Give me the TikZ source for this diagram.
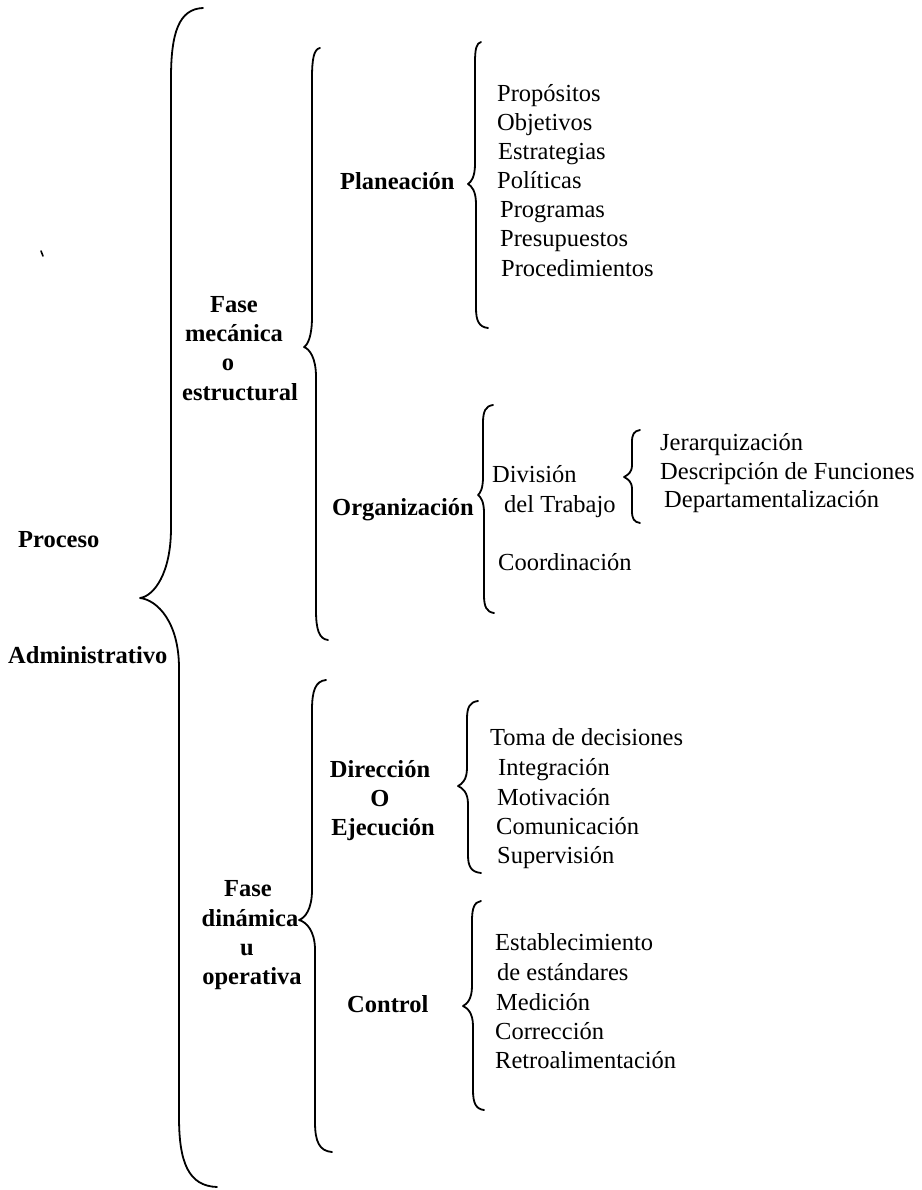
\documentclass[tikz,border=0pt]{standalone}
\usepackage{fontspec}
\setmainfont{Liberation Serif}
\begin{document}
% coordinates are given in points, y growing downwards
\newcommand\curlybrace[9]{%
  \draw[bracestroke]
    (#1,#2) .. controls ({#3+(#1-#3)*0.25},{#2+1}) and (#3,{#2+#9*0.35}) .. (#3,{#2+#9})
    -- (#3,{#5-#9})
    .. controls (#3,{#5-#9*0.35}) and ({#4+(#3-#4)*0.45},{#5-2}) .. (#4,#5)
    .. controls ({#4+(#6-#4)*0.45},{#5+2}) and (#6,{#5+#9*0.35}) .. (#6,{#5+#9})
    -- (#6,{#8-#9})
    .. controls (#6,{#8-#9*0.35}) and ({#6+(#7-#6)*0.25},{#8-1}) .. (#7,#8);}
\begin{tikzpicture}[x=1pt,y=-1pt,
  bracestroke/.style={line width=1.8pt,line cap=round,line join=round},
  hd/.style={inner sep=0pt,font=\fontsize{24.5}{29}\selectfont\bfseries},
  it/.style={inner sep=0pt,font=\fontsize{24.5}{29}\selectfont},
  lw/.style={anchor=base west},
  lc/.style={anchor=base}]
\useasboundingbox (0,0) rectangle (921,1190);
\fill[white] (0,0) rectangle (921,1190);

% braces: top end, upper stem, tip, lower stem, bottom end, hook length
\curlybrace{203}{8}{171}{140}{598}{179}{217}{1187}{70}
\curlybrace{320}{48}{312}{304}{347}{316}{328}{640}{30}
\curlybrace{326}{680}{312}{299}{920}{315}{332}{1152}{30}
\curlybrace{481}{42}{475}{468}{184}{476}{488}{328}{20}
\curlybrace{493}{405}{483}{478}{495}{484}{494}{613}{18}
\curlybrace{640}{430}{632}{624}{477}{632}{640}{523}{12}
\curlybrace{478}{701}{467}{458}{786}{468}{481}{873}{18}
\curlybrace{481}{901}{472}{463}{1006}{473}{484}{1110}{20}

% stray mark
\draw[line width=1.6pt,line cap=round] (41,251) -- (43,256);

% first level
\node[hd,lw] (proceso) at (18,547) {Proceso};
\node[hd,lw] (admin) at (8,663) {Administrativo};

% phases
\node[hd,lc] (fm1) at (234,312) {Fase};
\node[hd,lc] (fm2) at (234,341) {mecánica};
\node[hd,lc] (fm3) at (228,370) {o};
\node[hd,lc] (fm4) at (240,400) {estructural};

\node[hd,lc] (fd1) at (248,896) {Fase};
\node[hd,lc] (fd2) at (250,926) {dinámica};
\node[hd,lc] (fd3) at (247,955) {u};
\node[hd,lc] (fd4) at (252,984) {operativa};

% stages
\node[hd,lw] (plan) at (340,190) {Planeación};
\node[hd,lw] (org) at (332,515) {Organización};
\node[hd,lc] (dir1) at (380,777) {Dirección};
\node[hd,lc] (dir2) at (380,806) {O};
\node[hd,lc] (dir3) at (383,835) {Ejecución};
\node[hd,lw] (ctrl) at (347,1012) {Control};

% planning elements
\node[it,lw] (p1) at (497,102) {Propósitos};
\node[it,lw] (p2) at (497,131) {Objetivos};
\node[it,lw] (p3) at (498,160) {Estrategias};
\node[it,lw] (p4) at (497,189) {Políticas};
\node[it,lw] (p5) at (500,218) {Programas};
\node[it,lw] (p6) at (500,247) {Presupuestos};
\node[it,lw] (p7) at (501,276) {Procedimientos};

% organization elements
\node[it,lw] (o1) at (492,482) {División};
\node[it,lw] (o2) at (504,512) {del Trabajo};
\node[it,lw] (o3) at (498,570) {Coordinación};
\node[it,lw] (w1) at (660,450) {Jerarquización};
\node[it,lw] (w2) at (660,479) {Descripción de Funciones};
\node[it,lw] (w3) at (664,507) {Departamentalización};

% direction elements
\node[it,lw] (d1) at (490,745) {Toma de decisiones};
\node[it,lw] (d2) at (498,775) {Integración};
\node[it,lw] (d3) at (497,805) {Motivación};
\node[it,lw] (d4) at (496,834) {Comunicación};
\node[it,lw] (d5) at (497,863) {Supervisión};

% control elements
\node[it,lw] (c1) at (495,950) {Establecimiento};
\node[it,lw] (c2) at (497,980) {de estándares};
\node[it,lw] (c3) at (496,1010) {Medición};
\node[it,lw] (c4) at (495,1039) {Corrección};
\node[it,lw] (c5) at (495,1068) {Retroalimentación};
\end{tikzpicture}
\end{document}
